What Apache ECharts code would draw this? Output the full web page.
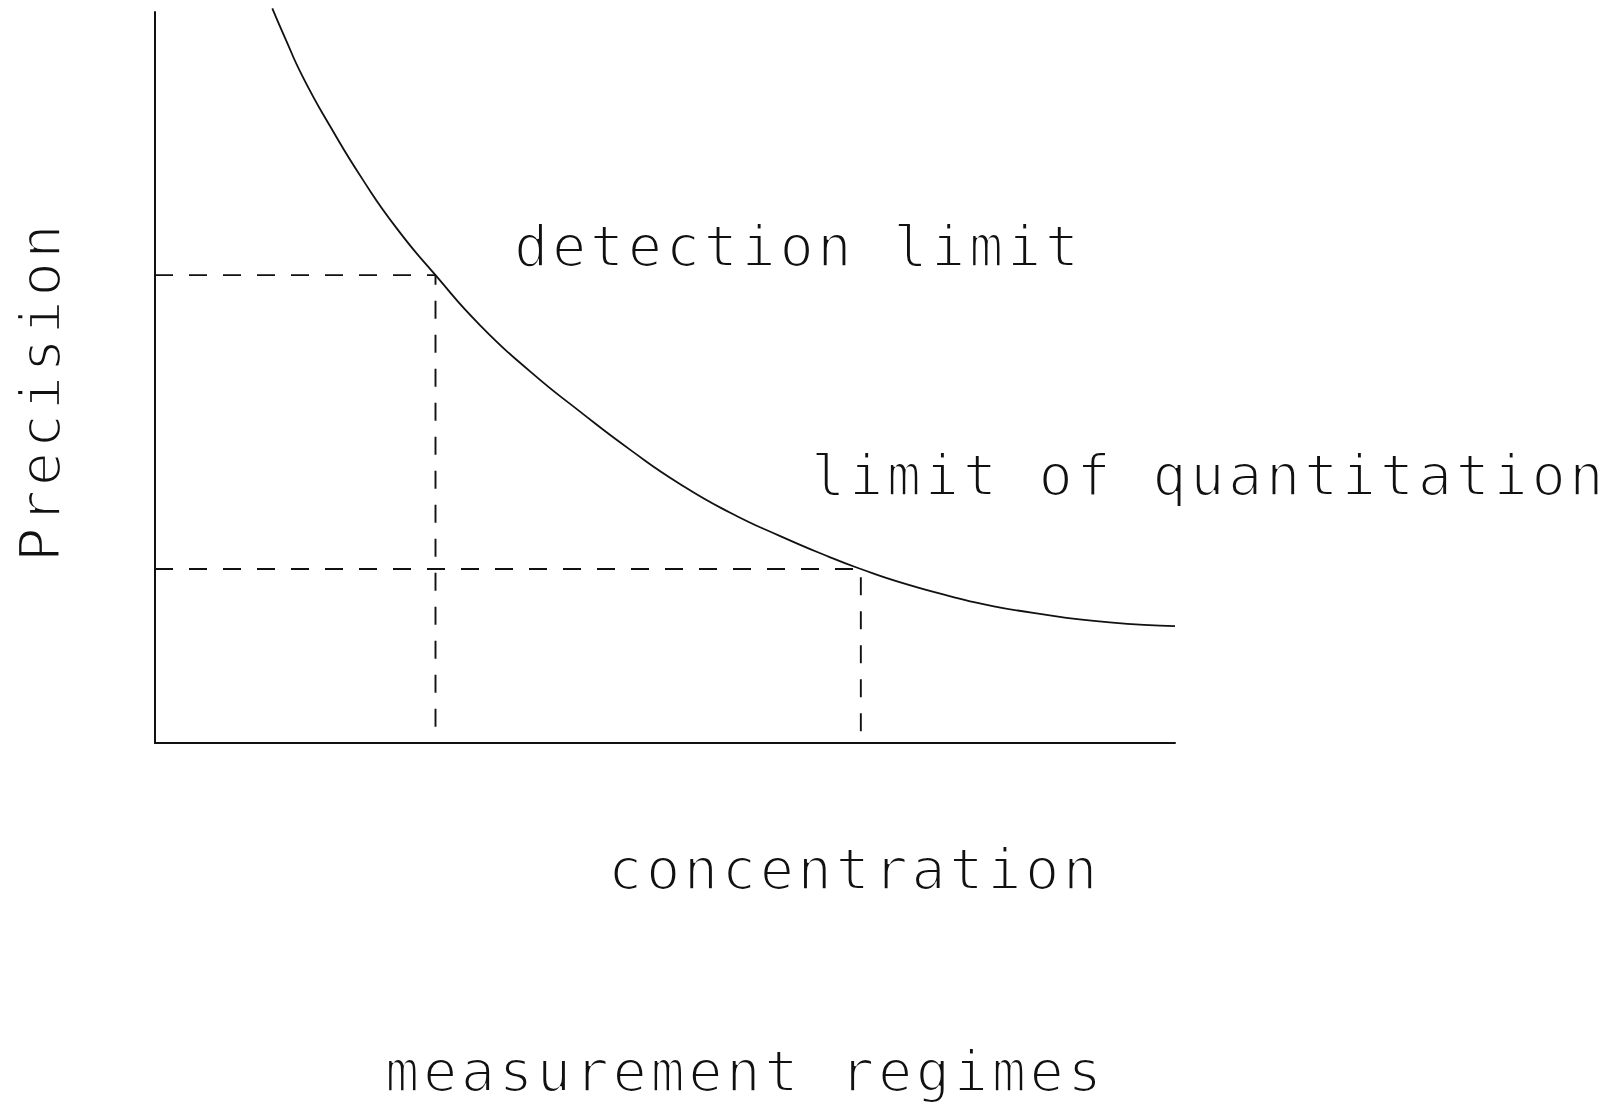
<!DOCTYPE html>
<html>
<head>
<meta charset="utf-8">
<script src="https://cdn.jsdelivr.net/npm/echarts@6/dist/echarts.min.js"></script>
<style>
  html, body { margin: 0; padding: 0; background: #fff; }
  #chart { width: 1621px; height: 1105px; }
  /* plotter-style lettering: monospace, wide pitch, fine strokes */
  #chart text {
    letter-spacing: 3.6px;
    stroke: #fff;
    stroke-width: 2.2px;
    paint-order: fill stroke;
  }
</style>
</head>
<body>
<div id="chart"></div>
<script>
// Precision falls as concentration rises (arbitrary units, 0-100 on both axes)
const concentration = [11.5, 12.8, 14.5, 17.2, 20.4, 23.7, 27.5, 31.9, 36.8, 41.7, 46.6, 51.5,
                       56.4, 61.3, 66.2, 69.2, 73.0, 77.9, 81.2, 86.1, 93.6, 100];
const precision     = [100.5, 96.3, 91.1, 84.3, 77.0, 70.4, 64.0, 57.1, 50.8, 45.3, 40.1, 35.4,
                       31.5, 28.3, 25.4, 23.8, 22.0, 20.1, 19.0, 17.8, 16.5, 16.0];

// [concentration, precision] where each limit meets the curve
const detectionLimit    = [27.5, 64.0];
const quantitationLimit = [69.2, 23.8];

const axisTitles  = ['concentration', 'Precision'];
const limitLabels = ['detection limit', 'limit of quantitation'];
const caption     = ['measurement regimes'];

const FONT = '57px "DejaVu Sans Mono", monospace';
const INK = '#111';

function dropLines(pt) {
  return [[0, pt[1]], [pt[0], pt[1]], [pt[0], 0]];
}

function textEl(str, x, y, rotation) {
  return {
    type: 'text', x: x, y: y, rotation: rotation || 0, silent: true,
    style: {
      text: str, font: FONT, fill: INK,
      textAlign: 'left', textVerticalAlign: 'middle', verticalAlign: 'middle'
    }
  };
}

const chart = echarts.init(document.getElementById('chart'), null, { renderer: 'svg' });

const dashStyle = { color: INK, width: 1.9, type: [18, 16] };

chart.setOption({
  animation: false,
  backgroundColor: '#fff',
  grid: { left: 155, right: 446, top: 12, bottom: 362, containLabel: false },
  xAxis: {
    type: 'value', min: 0, max: 100,
    axisLine: { show: true, lineStyle: { color: INK, width: 2 } },
    axisTick: { show: false }, axisLabel: { show: false }, splitLine: { show: false }
  },
  yAxis: {
    type: 'value', min: 0, max: 100,
    axisLine: { show: true, lineStyle: { color: INK, width: 2 } },
    axisTick: { show: false }, axisLabel: { show: false }, splitLine: { show: false }
  },
  series: [
    {
      type: 'line', name: 'precision',
      data: concentration.map((c, i) => [c, precision[i]]),
      smooth: 0.55, showSymbol: false, clip: false,
      lineStyle: { color: INK, width: 1.8 }
    },
    {
      type: 'line', name: limitLabels[0],
      data: dropLines(detectionLimit),
      showSymbol: false, clip: false, lineStyle: dashStyle
    },
    {
      type: 'line', name: limitLabels[1],
      data: dropLines(quantitationLimit),
      showSymbol: false, clip: false, lineStyle: dashStyle
    }
  ],
  graphic: [
    textEl(limitLabels[0], 514, 246),
    textEl(limitLabels[1], 811, 475),
    textEl(axisTitles[0], 608, 869),
    textEl(caption[0], 385, 1071),
    textEl(axisTitles[1], 40, 562, Math.PI / 2)
  ]
});
</script>
</body>
</html>
